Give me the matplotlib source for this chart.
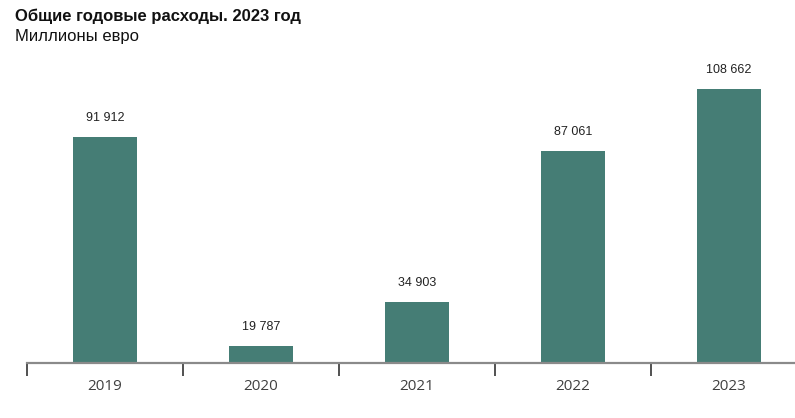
import matplotlib
matplotlib.use('Agg')
import matplotlib.pyplot as plt

# Data
years = ['2019', '2020', '2021', '2022', '2023']
spend = [91912, 19787, 34903, 87061, 108662]
labels = ['91 912', '19 787', '34 903', '87 061', '108 662']

BAR_COLOR = '#457d75'
W, H = 795, 418

fig = plt.figure(figsize=(W / 100, H / 100), dpi=100)
ax = fig.add_axes([27 / W, (H - 363.3) / H, (W - 27) / W, (363.3 - 60) / H])

x = range(len(years))
ax.bar(x, spend, width=0.415, color=BAR_COLOR, zorder=2)

for xi, v, lab in zip(x, spend, labels):
    ax.annotate(lab, (xi, v), xytext=(0, 13.7), textcoords='offset points',
                ha='center', va='center', fontsize=9, color='#222222',
                family='Liberation Sans')

ax.set_xlim(-0.5, 4.5 - 12 / 156)
ax.set_ylim(13800, 118680)

for s in ['top', 'right', 'left']:
    ax.spines[s].set_visible(False)
ax.spines['bottom'].set_color('#8a8a8a')
ax.spines['bottom'].set_linewidth(1.6)
ax.spines['bottom'].set_zorder(3)

ax.set_yticks([])
ax.set_xticks(list(x))
ax.set_xticklabels(years, fontsize=11, color='#404040', family='Open Sans')
ax.tick_params(axis='x', which='major', length=0, pad=11)
ax.set_xticks([-0.5, 0.5, 1.5, 2.5, 3.5], minor=True)
ax.tick_params(axis='x', which='minor', length=9, width=1.2, color='#333333')

fig.text(15 / W, 1 - 16 / H, 'Общие годовые расходы. 2023 год', ha='left', va='center',
         fontsize=12, fontweight='bold', color='#111111', family='Liberation Sans')
fig.text(15 / W, 1 - 37 / H, 'Миллионы евро', ha='left', va='center',
         fontsize=12, color='#111111', family='Liberation Sans')

fig.savefig('out.png', dpi=100)
